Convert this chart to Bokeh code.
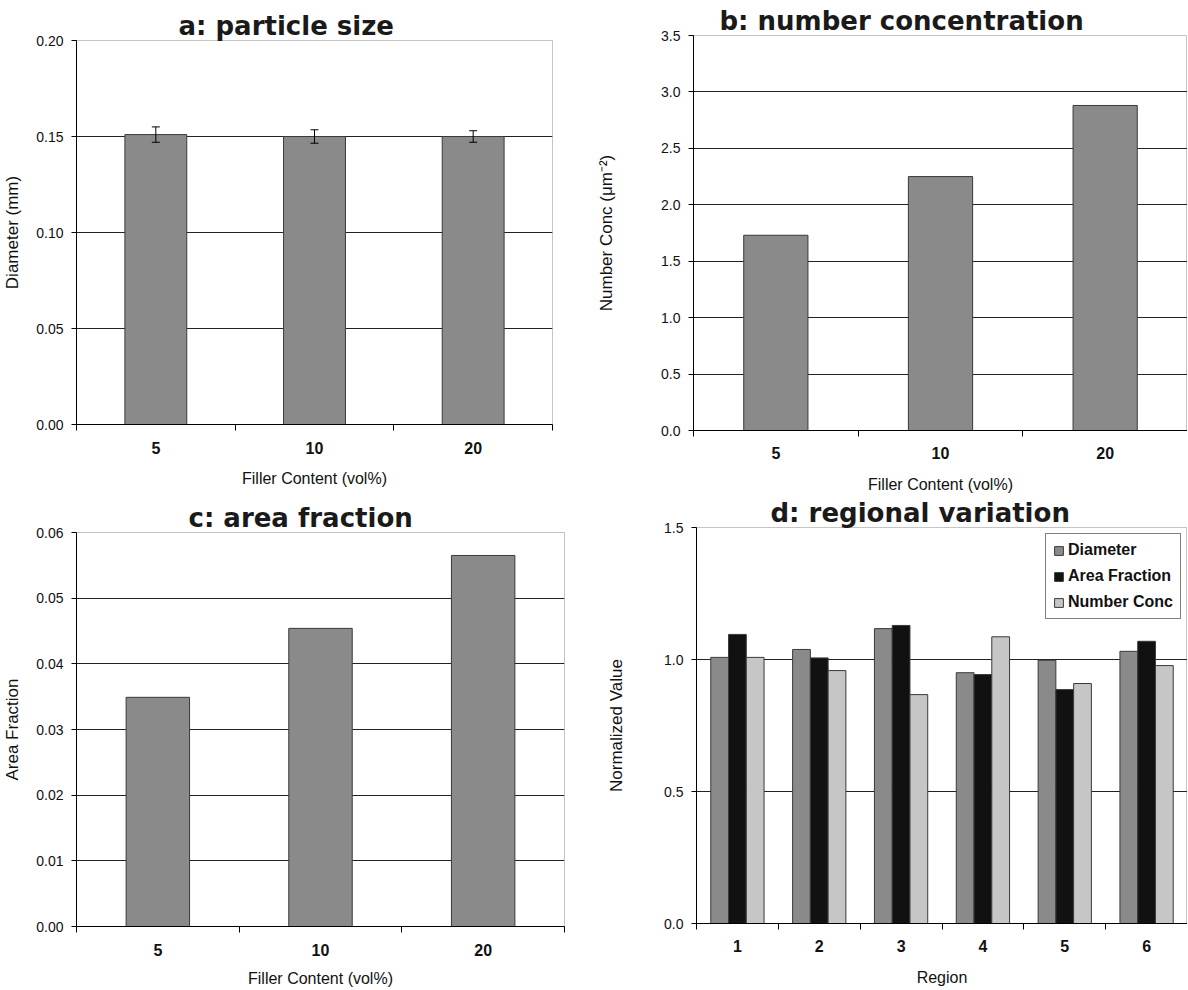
from bokeh.plotting import figure
from bokeh.models import (Range1d, FixedTicker, NumeralTickFormatter,
                          Whisker, TeeHead, ColumnDataSource)
from bokeh.layouts import column, row
from bokeh.embed import file_html
from bokeh.resources import INLINE

FONT = "Liberation Sans"
TITLE_FONT = "DejaVu Sans"

# ---------------- data ----------------
filler = ["5", "10", "20"]
diameter_mm = [0.151, 0.150, 0.150]
diameter_err = [0.004, 0.0035, 0.003]
number_conc = [1.73, 2.25, 2.88]
area_fraction = [0.0349, 0.0454, 0.0565]

regions = ["1", "2", "3", "4", "5", "6"]
reg_diameter = [1.008, 1.038, 1.117, 0.950, 0.997, 1.031]
reg_area = [1.095, 1.006, 1.129, 0.943, 0.886, 1.069]
reg_number = [1.008, 0.958, 0.867, 1.086, 0.909, 0.977]
series_names = ["Diameter", "Area Fraction", "Number Conc"]

titles = ["a:  particle size", "b:  number concentration",
          "c:  area fraction", "d:  regional variation"]

BAR = "#8a8a8a"
BAR_LINE = "#3a3a3a"
SERIES_COLORS = ["#8a8a8a", "#111111", "#c6c6c6"]
TEXT = "#111111"


def make_fig(title, title_offset, width, height, ml, mr, mt, mb,
             cats, ymax, ystep, fmt, xlabel, ylabel, ylab_standoff,
             xtick_standoff, xlab_standoff):
    n = len(cats)
    p = figure(width=width, height=height, x_range=Range1d(0, n),
               y_range=Range1d(0, ymax), output_backend="svg",
               toolbar_location=None, min_border_left=ml, min_border_right=mr,
               min_border_top=mt, min_border_bottom=mb, title=title,
               background_fill_color="white", border_fill_color="white")
    # title
    p.title.text_font = TITLE_FONT
    p.title.text_font_size = "26px"
    p.title.text_font_style = "bold"
    p.title.text_color = "#1a1a1a"
    p.title.align = "left"
    p.title.offset = title_offset
    p.title.standoff = 0
    # dotted plot-area border
    p.outline_line_color = "#8a8a8a"
    p.outline_line_dash = "1 1"
    p.outline_line_width = 1
    nt = int(round(ymax / ystep))
    yticks = [round(i * ystep, 6) for i in range(nt + 1)]
    centers = [i + 0.5 for i in range(n)]
    # x axis
    xa = p.xaxis[0]
    xa.ticker = FixedTicker(ticks=centers, minor_ticks=list(range(n + 1)))
    xa.major_label_overrides = {c: lab for c, lab in zip(centers, cats)}
    xa.major_tick_out = 0
    xa.major_tick_in = 0
    xa.minor_tick_out = 6
    xa.minor_tick_in = 0
    xa.minor_tick_line_color = "black"
    xa.axis_line_color = "black"
    xa.major_label_text_font = FONT
    xa.major_label_text_font_size = "16px"
    xa.major_label_text_font_style = "bold"
    xa.major_label_text_color = TEXT
    xa.major_label_standoff = xtick_standoff
    xa.axis_label = xlabel
    xa.axis_label_text_font = FONT
    xa.axis_label_text_font_size = "16px"
    xa.axis_label_text_font_style = "normal"
    xa.axis_label_text_color = TEXT
    xa.axis_label_standoff = xlab_standoff
    # y axis
    ya = p.yaxis[0]
    ya.ticker = FixedTicker(ticks=yticks)
    ya.formatter = NumeralTickFormatter(format=fmt)
    ya.major_tick_out = 5
    ya.major_tick_in = 0
    ya.minor_tick_line_color = None
    ya.axis_line_color = "black"
    ya.major_label_text_font = FONT
    ya.major_label_text_font_size = "14px"
    ya.major_label_text_color = TEXT
    ya.major_label_standoff = 8
    ya.axis_label = ylabel
    ya.axis_label_text_font = FONT
    ya.axis_label_text_font_size = "17px"
    ya.axis_label_text_font_style = "normal"
    ya.axis_label_text_color = TEXT
    ya.axis_label_standoff = ylab_standoff
    # grid
    p.xgrid.grid_line_color = None
    p.ygrid.ticker = FixedTicker(ticks=yticks[1:-1])
    p.ygrid.grid_line_color = "#222222"
    p.ygrid.grid_line_width = 1
    return p, centers


# ---------------- panel a ----------------
pa, ca = make_fig(titles[0], 102, 594, 495, 76, 42, 40, 71, filler, 0.20, 0.05,
                  "0.00", "Filler Content (vol%)", "Diameter (mm)", 11, 11, 13)
pa.vbar(x=ca, top=diameter_mm, width=0.39, fill_color=BAR, line_color=BAR_LINE)
err_src = ColumnDataSource(dict(x=ca,
                                lower=[v - e for v, e in zip(diameter_mm, diameter_err)],
                                upper=[v + e for v, e in zip(diameter_mm, diameter_err)]))
pa.add_layout(Whisker(source=err_src, base="x", lower="lower", upper="upper",
                      line_color="black", line_width=1, level="overlay",
                      lower_head=TeeHead(size=8, line_color="black"),
                      upper_head=TeeHead(size=8, line_color="black")))

# ---------------- panel b ----------------
pb, cb = make_fig(titles[1], 26, 593, 495, 96, 0, 35, 65, filler, 3.5, 0.5,
                  "0.0", "Filler Content (vol%)",
                  "Number Conc (\u03bcm\u207b\u00b2)", 42, 10, 14)
pb.vbar(x=cb, top=number_conc, width=0.39, fill_color=BAR, line_color=BAR_LINE)

# ---------------- panel c ----------------
pc, cc = make_fig(titles[2], 112, 594, 494, 76, 30, 37, 63, filler, 0.06, 0.01,
                  "0.00", "Filler Content (vol%)", "Area Fraction", 11, 11, 11)
pc.vbar(x=cc, top=area_fraction, width=0.39, fill_color=BAR, line_color=BAR_LINE)

# ---------------- panel d ----------------
pd_, cd = make_fig(titles[3], 74, 593, 494, 102, 0, 32, 66, regions, 1.5, 0.5,
                   "0.0", "Region", "Normalized Value", 35, 10, 14)
bw = 0.217
for k, (vals, name, col) in enumerate(zip([reg_diameter, reg_area, reg_number],
                                          series_names, SERIES_COLORS)):
    xs = [c + (k - 1) * bw for c in cd]
    pd_.vbar(x=xs, top=vals, width=bw, fill_color=col, line_color=BAR_LINE,
             legend_label=name)
lg = pd_.legend[0]
lg.location = (349, 304)
lg.margin = 0
lg.padding = 7
lg.spacing = 8
lg.border_line_color = "black"
lg.border_line_width = 1
lg.background_fill_color = "white"
lg.background_fill_alpha = 1
lg.label_text_font = FONT
lg.label_text_font_size = "16px"
lg.label_text_font_style = "bold"
lg.label_text_color = TEXT
lg.glyph_width = 11
lg.glyph_height = 11
lg.label_height = 17
lg.label_standoff = 4

# each figure wrapped in its own column so that a row does not align frames
layout = column(row(column(pa), column(pb)), row(column(pc), column(pd_)))
open("out.html", "w").write(file_html(layout, INLINE))
